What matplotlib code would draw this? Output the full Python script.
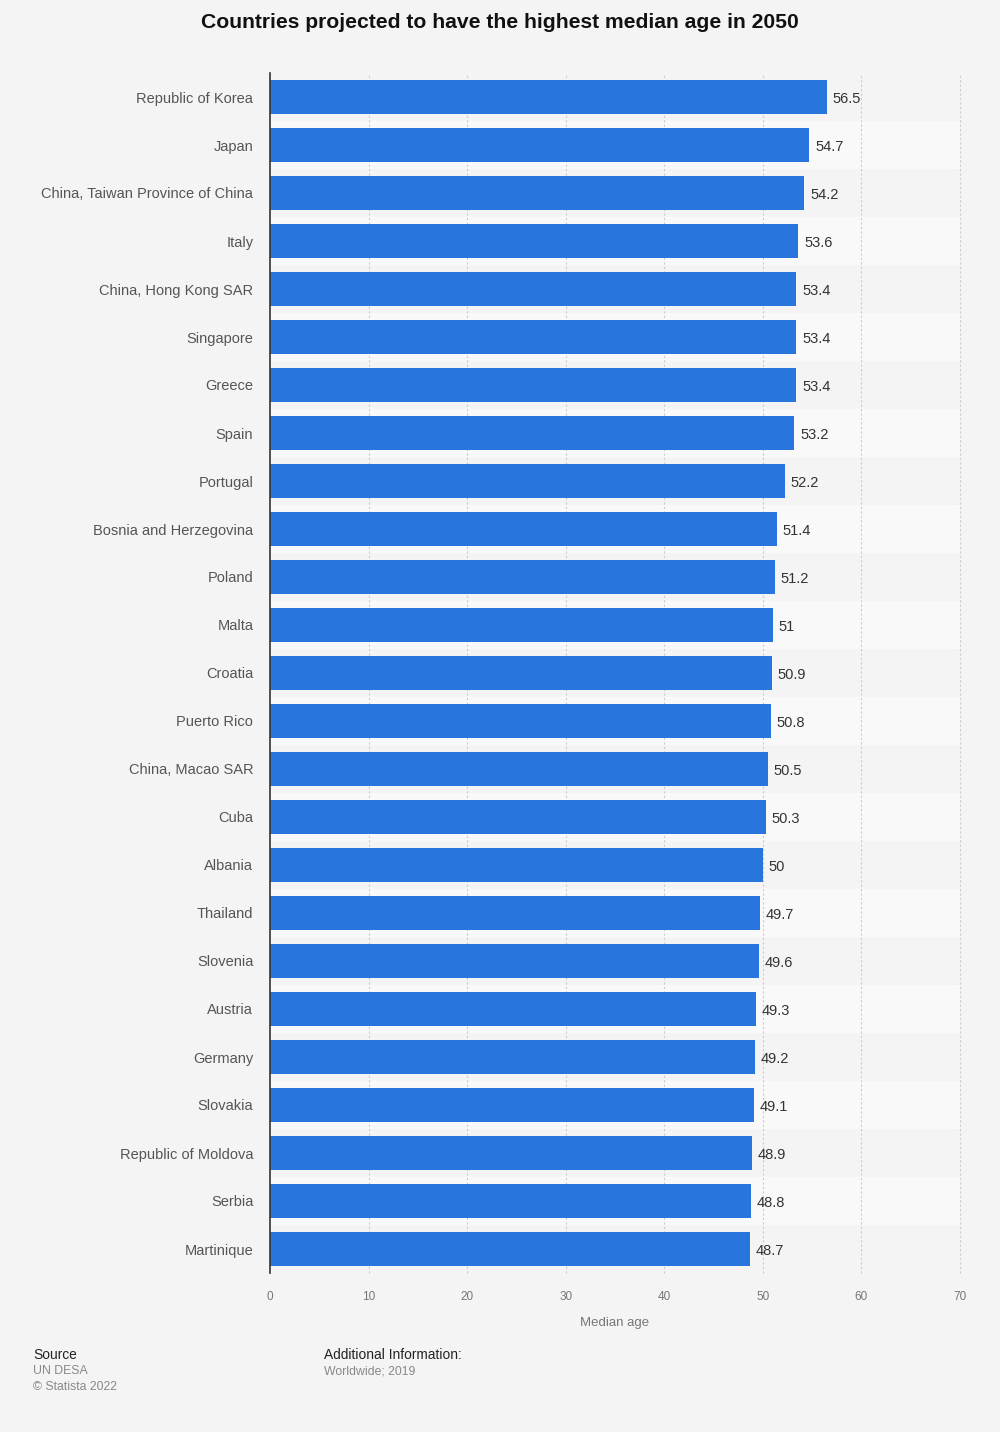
import matplotlib.pyplot as plt
from matplotlib.patches import Rectangle

countries = ["Republic of Korea", "Japan", "China, Taiwan Province of China", "Italy",
             "China, Hong Kong SAR", "Singapore", "Greece", "Spain", "Portugal",
             "Bosnia and Herzegovina", "Poland", "Malta", "Croatia", "Puerto Rico",
             "China, Macao SAR", "Cuba", "Albania", "Thailand", "Slovenia", "Austria",
             "Germany", "Slovakia", "Republic of Moldova", "Serbia", "Martinique"]
median_age = [56.5, 54.7, 54.2, 53.6, 53.4, 53.4, 53.4, 53.2, 52.2, 51.4, 51.2, 51,
              50.9, 50.8, 50.5, 50.3, 50, 49.7, 49.6, 49.3, 49.2, 49.1, 48.9, 48.8, 48.7]
value_labels = ["56.5", "54.7", "54.2", "53.6", "53.4", "53.4", "53.4", "53.2", "52.2",
                "51.4", "51.2", "51", "50.9", "50.8", "50.5", "50.3", "50", "49.7",
                "49.6", "49.3", "49.2", "49.1", "48.9", "48.8", "48.7"]
x_ticks = [0, 10, 20, 30, 40, 50, 60, 70]

bg = "#f4f4f4"
bar_color = "#2876dd"

W, H = 1000, 1432
fig = plt.figure(figsize=(W / 100, H / 100), dpi=100, facecolor=bg)
plt.rcParams['font.family'] = ['Liberation Sans', 'DejaVu Sans']

# axes: x from 270 to 960 px, y from 73 to 1273 px
ax = fig.add_axes([270 / W, 1 - 1273 / H, 690 / W, 1200 / H])
ax.set_facecolor(bg)
n = len(countries)
ax.set_xlim(0, 70)
ax.set_ylim(n - 0.5, -0.5)

# alternating row bands
for i in range(n):
    if i % 2 == 1:
        ax.add_patch(Rectangle((0, i - 0.5), 70, 1, facecolor="#f9f9f9",
                               edgecolor="none", zorder=0))

for t in x_ticks[1:]:
    ax.axvline(t, color="#cccccc", linestyle=(0, (2, 2)), linewidth=0.8,
               zorder=1, clip_on=False)

ypos = list(range(n))
ax.barh(ypos, median_age, height=0.69, color=bar_color, zorder=2)
for y, v, lab in zip(ypos, median_age, value_labels):
    ax.text(v + 0.6, y + 0.04, lab, va="center", ha="left", fontsize=10.5,
            color="#333333", zorder=3)

ax.set_yticks(ypos)
ax.set_yticklabels(countries, fontsize=10.5, color="#555555")
ax.set_xticks(x_ticks)
ax.set_xticklabels([str(t) for t in x_ticks], fontsize=8.5, color="#777777")
ax.tick_params(axis="y", length=0, pad=12)
ax.tick_params(axis="x", length=0, pad=13)
for s in ["top", "right", "bottom"]:
    ax.spines[s].set_visible(False)
ax.spines["left"].set_color("#333333")
ax.spines["left"].set_linewidth(1.2)
ax.set_xlabel("Median age", fontsize=9.5, color="#777777", labelpad=10)

fig.text(0.5, 1 - 22 / H, "Countries projected to have the highest median age in 2050",
         ha="center", va="center", fontsize=15.2, fontweight="bold", color="#111111")

fig.text(33 / W, 1 - 1355 / H, "Source", fontsize=9.9, color="#222222", va="center")
fig.text(33 / W, 1 - 1371 / H, "UN DESA", fontsize=8.8, color="#888888", va="center")
fig.text(33 / W, 1 - 1387 / H, "© Statista 2022", fontsize=8.8, color="#888888", va="center")
fig.text(324 / W, 1 - 1355 / H, "Additional Information:", fontsize=9.9, color="#222222", va="center")
fig.text(324 / W, 1 - 1371 / H, "Worldwide; 2019", fontsize=8.8, color="#888888", va="center")

fig.savefig("out.png", dpi=100, facecolor=bg)
